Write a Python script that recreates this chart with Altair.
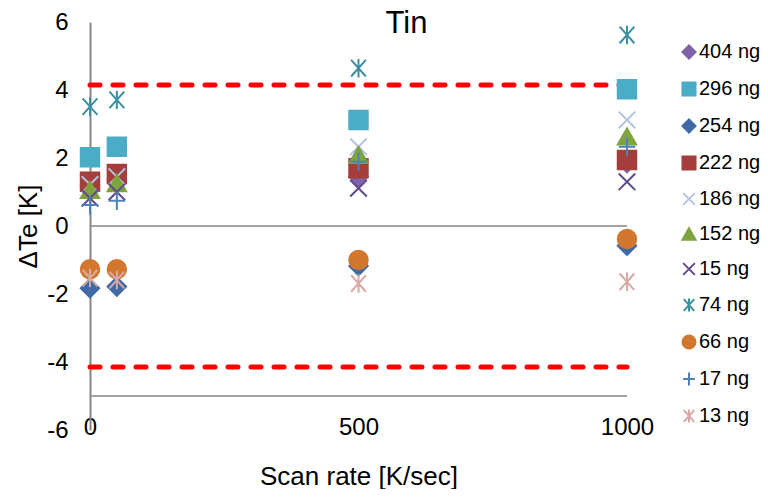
import altair as alt
import pandas as pd

# ---- data ----
rates = [0, 50, 500, 1000]
series = ["404 ng", "296 ng", "254 ng", "222 ng", "186 ng", "152 ng",
          "15 ng", "74 ng", "66 ng", "17 ng", "13 ng"]
ng404 = [1.20, 1.35, 1.45, 1.85]
ng296 = [2.02, 2.33, 3.12, 4.02]
ng254 = [-1.83, -1.78, -1.18, -0.58]
ng222 = [1.30, 1.53, 1.70, 1.94]
ng186 = [1.22, 1.45, 2.33, 3.12]
ng152 = [1.06, 1.26, 2.09, 2.63]
ng15 = [0.82, 1.00, 1.11, 1.30]
ng74 = [3.51, 3.71, 4.64, 5.62]
ng66 = [-1.27, -1.27, -1.00, -0.38]
ng17 = [0.62, 0.74, 1.89, 2.33]
ng13 = [-1.53, -1.59, -1.69, -1.64]
limits = [4.15, -4.15]
ref_lines = [0, -5]
y_ticks = [-6, -4, -2, 0, 2, 4, 6]
x_ticks = [0, 500, 1000]

all_vals = [ng404, ng296, ng254, ng222, ng186, ng152, ng15, ng74, ng66, ng17, ng13]

# ---- styles ----
colors = ["#7F62A8", "#4BACC6", "#3F6AA6", "#A33E3C", "#B4C4E0", "#7EA33F",
          "#5F4A8B", "#3A8FA0", "#D2772E", "#4F81BD", "#D9A8A5"]
X_PATH = "M-0.9,-0.9L0.9,0.9M-0.9,0.9L0.9,-0.9"
STAR_PATH = "M-0.8,-0.9L0.8,0.9M-0.8,0.9L0.8,-0.9M0,-1L0,1"
PLUS_PATH = "M-0.9,0L0.9,0M0,-1L0,1"
shapes = ["diamond", "square", "diamond", "square", X_PATH, "triangle-up",
          X_PATH, STAR_PATH, "circle", PLUS_PATH, STAR_PATH]
filled = [True, True, True, True, False, True, False, False, True, False, False]
fills = [c if f else "transparent" for c, f in zip(colors, filled)]

rows = []
for s, vals in zip(series, all_vals):
    for r, v in zip(rates, vals):
        rows.append({"rate": r, "dte": v, "series": s})
df = pd.DataFrame(rows)

lim_df = pd.DataFrame({"y": limits, "x0": [0] * len(limits), "x1": [1000] * len(limits)})
ref_df = pd.DataFrame({"y": ref_lines, "x0": [0] * len(ref_lines), "x1": [1000] * len(ref_lines)})

FONT = "Liberation Sans"
W, H = 537, 408

xscale = alt.Scale(domain=[0, 1000], nice=False, zero=False)
yscale = alt.Scale(domain=[-6, 6], nice=False, zero=False)

leg = alt.Legend(orient="none", legendX=589, legendY=20, title=None,
                 labelFontSize=20, labelFont=FONT, labelColor="#000000",
                 symbolSize=170, symbolStrokeWidth=2, rowPadding=15,
                 labelOffset=0, padding=0)

xaxis = alt.Axis(values=x_ticks, domain=False, ticks=False, grid=False,
                 labelExpr="datum.value",
                 labelFontSize=24, labelFont=FONT, labelColor="#000000",
                 labelPadding=-3, labelBaseline="middle", labelFlush=False,
                 labelOverlap=False, labelBound=False,
                 title="Scan rate [K/sec]", titleFontSize=26, titleFont=FONT,
                 titleFontWeight="normal", titleColor="#000000",
                 titleY=46, titleBaseline="middle")
yaxis = alt.Axis(values=y_ticks, ticks=False, grid=False,
                 labelExpr="datum.value",
                 domainColor="#868686", domainWidth=2,
                 labelFontSize=24, labelFont=FONT, labelColor="#000000",
                 labelPadding=22, labelFlush=False, labelOverlap=False,
                 title="ΔTe [K]", titleFontSize=26, titleFont=FONT,
                 titleFontWeight="normal", titleColor="#000000",
                 titleX=-62, titleY=H / 2, titleAngle=-90,
                 titleBaseline="middle", titleAlign="center")

ref = alt.Chart(ref_df).mark_rule(color="#868686", strokeWidth=1.5).encode(
    y=alt.Y("y:Q", scale=yscale, axis=yaxis),
    x=alt.X("x0:Q", scale=xscale, axis=xaxis),
    x2="x1:Q",
)
lim = alt.Chart(lim_df).mark_rule(color="#FF0000", strokeWidth=5,
                                  strokeDash=[10, 13], strokeCap="round").encode(
    y=alt.Y("y:Q", scale=yscale),
    x=alt.X("x0:Q", scale=xscale),
    x2="x1:Q",
)
pts = alt.Chart(df).mark_point(size=340, strokeWidth=2, opacity=1).encode(
    x=alt.X("rate:Q", scale=xscale),
    y=alt.Y("dte:Q", scale=yscale),
    fill=alt.Fill("series:N", scale=alt.Scale(domain=series, range=fills), legend=leg),
    stroke=alt.Stroke("series:N", scale=alt.Scale(domain=series, range=colors), legend=leg),
    shape=alt.Shape("series:N", scale=alt.Scale(domain=series, range=shapes), legend=leg),
)

chart = alt.layer(ref, lim, pts).properties(
    width=W, height=H,
    title=alt.TitleParams("Tin", fontSize=31, font=FONT, fontWeight="normal",
                          color="#000000", anchor="middle", dx=48, dy=54,
                          frame="group", offset=0, baseline="alphabetic"),
    autosize=alt.AutoSizeParams(type="none"),
    padding={"left": 82, "top": 14, "right": 133, "bottom": 59},
).configure(background="white").configure_view(stroke=None)

chart.save("out.html", embed_options={"renderer": "svg", "actions": False})
